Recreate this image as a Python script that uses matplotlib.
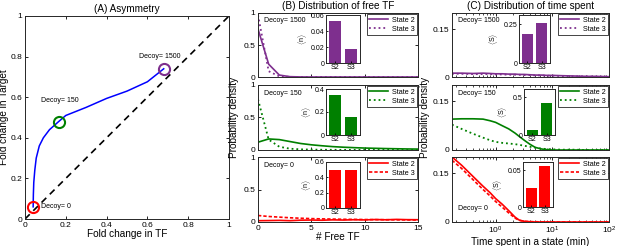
import numpy as np
import matplotlib
matplotlib.use("Agg")
import matplotlib.pyplot as plt

plt.rcParams['font.family'] = ['Liberation Sans', 'DejaVu Sans']
plt.rcParams['mathtext.fontset'] = 'custom'
plt.rcParams['mathtext.rm'] = 'Liberation Sans'
plt.rcParams['mathtext.it'] = 'Liberation Sans'

# ---------------- data ----------------
# Panel A
curve_tf = [0.04, 0.041, 0.043, 0.048, 0.055, 0.07, 0.09, 0.12, 0.165, 0.20, 0.30, 0.40, 0.50, 0.60, 0.68]
curve_target = [0.06, 0.12, 0.18, 0.24, 0.30, 0.36, 0.40, 0.44, 0.48, 0.51, 0.55, 0.594, 0.63, 0.676, 0.74]
decoy_tf = [0.04, 0.165, 0.68]
decoy_target = [0.06, 0.48, 0.74]
decoy_labels = ["Decoy= 0", "Decoy= 150", "Decoy= 1500"]
decoy_colors = ["#FF0000", "#008000", "#7E2F8E"]

# Panel B (free TF distribution), n = 0..15
n_free = list(range(16))
b1500_s2 = [0.75, 0.20, 0.03, 0.005, 0.001, 0, 0, 0, 0, 0, 0, 0, 0, 0, 0, 0]
b1500_s3 = [0.97, 0.09, 0.01, 0.002, 0, 0, 0, 0, 0, 0, 0, 0, 0, 0, 0, 0]
b150_s2 = [0.12, 0.17, 0.16, 0.13, 0.10, 0.08, 0.065, 0.052, 0.043, 0.036, 0.030, 0.026, 0.022, 0.019, 0.016, 0.014]
b150_s3 = [0.78, 0.16, 0.05, 0.02, 0.01, 0.006, 0.004, 0.003, 0.002, 0.002, 0.001, 0.001, 0.001, 0.001, 0.001, 0.001]
b0_s2 = [0.02, 0.022, 0.025, 0.02, 0.028, 0.03, 0.027, 0.033, 0.03, 0.035, 0.032, 0.038, 0.034, 0.04, 0.036, 0.035]
b0_s3 = [0.10, 0.085, 0.075, 0.065, 0.058, 0.052, 0.048, 0.045, 0.042, 0.04, 0.038, 0.036, 0.035, 0.033, 0.032, 0.03]

# Panel B insets <n>
bin_labels = ["S2", "S3"]
nb1500 = [0.052, 0.018]
nb150 = [0.35, 0.16]
nb0 = [0.50, 0.50]

# Panel C (time spent), log time axis
t_time = [0.17, 0.25, 0.4, 0.6, 0.8, 1.0, 1.3, 1.7, 2.2, 2.6, 3.2, 4.0, 5.0, 6.5, 8.0, 10, 15, 25, 40, 60, 100]
c1500_s2 = [0.012, 0.012, 0.011, 0.012, 0.011, 0.010, 0.010, 0.009, 0.009, 0.008, 0.008, 0.007, 0.006, 0.006, 0.005, 0.005, 0.004, 0.003, 0.002, 0.002, 0.001]
c1500_s3 = [0.010, 0.010, 0.009, 0.009, 0.009, 0.008, 0.008, 0.007, 0.007, 0.007, 0.006, 0.006, 0.005, 0.005, 0.004, 0.004, 0.003, 0.002, 0.002, 0.001, 0.001]
c150_s2 = [0.095, 0.096, 0.096, 0.095, 0.090, 0.085, 0.075, 0.065, 0.052, 0.042, 0.030, 0.018, 0.008, 0.003, 0.001, 0, 0, 0, 0, 0, 0]
c150_s3 = [0.078, 0.065, 0.050, 0.038, 0.030, 0.025, 0.022, 0.020, 0.018, 0.016, 0.013, 0.010, 0.007, 0.004, 0.003, 0.002, 0.001, 0.001, 0, 0, 0]
c0_s2 = [0.20, 0.175, 0.14, 0.11, 0.09, 0.072, 0.055, 0.035, 0.015, 0.006, 0.002, 0.001, 0, 0, 0, 0, 0, 0, 0, 0, 0]
c0_s3 = [0.19, 0.165, 0.13, 0.10, 0.08, 0.063, 0.046, 0.028, 0.012, 0.005, 0.002, 0.001, 0.001, 0, 0, 0, 0, 0, 0, 0, 0]

# Panel C insets <S>
sc1500 = [0.19, 0.257]
sc150 = [0.07, 0.42]
sc0 = [0.026, 0.056]

# ---------------- layout ----------------
W, H = 617, 246
fig = plt.figure(figsize=(W / 100, H / 100), dpi=100)


def rect(x0, y0, x1, y1):
    return [x0 / W, 1 - y1 / H, (x1 - x0) / W, (y1 - y0) / H]


FS = 6.0
SMALL = 5.0
LAB = 7.2


def style(ax, fs=FS):
    ax.tick_params(direction='in', top=True, right=True, labelsize=fs,
                   length=2.5, width=0.6, pad=2)
    ax.tick_params(which='minor', direction='in', top=True, right=True, length=1.5, width=0.5)
    for s in ax.spines.values():
        s.set_linewidth(0.7)
        s.set_color('#262626')


def add_legend(ax):
    leg = ax.legend(loc='upper right', fontsize=5.2, frameon=True, fancybox=False,
                    handlelength=2.6, borderpad=0.35, labelspacing=0.25, handletextpad=0.5,
                    borderaxespad=0.15)
    leg.get_frame().set_edgecolor('#262626')
    leg.get_frame().set_linewidth(0.6)
    leg.get_frame().set_alpha(1)


# Panel A
axA = fig.add_axes(rect(25, 16, 229, 219))
axA.plot([0, 1], [0, 1], '--', color='black', lw=1.2, dashes=(4, 3))
axA.plot(curve_tf, curve_target, color='#0000FF', lw=1.1)
for x, y, c in zip(decoy_tf, decoy_target, decoy_colors):
    axA.plot(x, y, 'o', ms=8, mfc='none', mec=c, mew=1.5)
axA.text(0.08, 0.06, decoy_labels[0], fontsize=SMALL, va='center', ha='left')
axA.text(0.17, 0.565, decoy_labels[1], fontsize=SMALL, va='bottom', ha='center')
axA.text(0.66, 0.785, decoy_labels[2], fontsize=SMALL, va='bottom', ha='center')
axA.set_xlim(0, 1)
axA.set_ylim(0, 1)
ticks = [0, 0.2, 0.4, 0.6, 0.8, 1]
axA.set_xticks(ticks)
axA.set_yticks(ticks)
axA.set_xticklabels(["0", "0.2", "0.4", "0.6", "0.8", "1"])
axA.set_yticklabels(["0", "0.2", "0.4", "0.6", "0.8", "1"])
style(axA)
axA.set_xlabel("Fold change in TF", fontsize=LAB, labelpad=0.5)
axA.set_ylabel("Fold change in Target", fontsize=LAB, labelpad=1)
axA.set_title("(A) Asymmetry", fontsize=LAB, pad=3)

rows = [(13, 77), (85, 150), (157, 222)]
colsB = (258, 418)
colsC = (452, 609)

B_data = [(b1500_s2, b1500_s3, nb1500, "Decoy= 1500", decoy_colors[2], (0, 0.06), [0, 0.02, 0.04, 0.06], ":"),
          (b150_s2, b150_s3, nb150, "Decoy= 150", decoy_colors[1], (0, 0.4), [0, 0.2, 0.4], ":"),
          (b0_s2, b0_s3, nb0, "Decoy= 0", decoy_colors[0], (0, 0.6), [0, 0.2, 0.4, 0.6], "--")]
B_insets = [(326, 15, 360, 63), (326, 89, 360, 135), (326, 162, 360, 208)]

for i, ((s2, s3, nb, lab, col, ylim_in, yt_in, ls3), (y0, y1), ins) in enumerate(zip(B_data, rows, B_insets)):
    ax = fig.add_axes(rect(colsB[0], y0, colsB[1], y1))
    ax.plot(n_free, s2, '-', color=col, lw=1.2, label="State 2")
    if ls3 == ":":
        ax.plot(n_free, s3, ':', color=col, lw=1.3, label="State 3")
    else:
        ax.plot(n_free, s3, '--', color=col, lw=1.2, dashes=(2, 1.2), label="State 3")
    ax.set_xlim(0, 15)
    ax.set_ylim(0, 1)
    ax.set_xticks([0, 5, 10, 15])
    ax.set_yticks([0, 0.5, 1])
    ax.set_yticklabels(["0", "0.5", "1"])
    style(ax)
    if i < 2:
        ax.set_xticklabels([])
    else:
        ax.set_xlabel("# Free TF", fontsize=LAB, labelpad=0.5)
    if i == 0:
        ax.set_title("(B) Distribution of free TF", fontsize=LAB, pad=3)
    if i == 1:
        ax.set_ylabel("Probability density", fontsize=LAB, labelpad=3)
    ax.text(0.04, 0.93, lab, transform=ax.transAxes, fontsize=SMALL, va='top', ha='left')
    add_legend(ax)
    axi = fig.add_axes(rect(*ins))
    axi.bar([0, 1], nb, width=0.8, color=col)
    axi.set_xlim(-0.6, 1.6)
    axi.set_ylim(*ylim_in)
    axi.set_xticks([0, 1])
    axi.set_xticklabels(bin_labels)
    axi.set_yticks(yt_in)
    axi.set_yticklabels([f"{v:g}" for v in yt_in])
    style(axi, fs=SMALL)
    axi.tick_params(top=False, right=False, length=1.5, pad=1)
    axi.set_ylabel(r"$\langle n\rangle$", fontsize=SMALL, labelpad=1)

C_data = [(c1500_s2, c1500_s3, sc1500, "Decoy= 1500", decoy_colors[2], (0, 0.31), [0, 0.25], ":", (0.04, 0.93, 'top')),
          (c150_s2, c150_s3, sc150, "Decoy= 150", decoy_colors[1], (0, 0.61), [0, 0.5], ":", (0.04, 0.93, 'top')),
          (c0_s2, c0_s3, sc0, "Decoy= 0", decoy_colors[0], (0, 0.061), [0, 0.05], "--", (0.04, 0.2, 'center'))]
C_insets = [(519, 15, 550, 63), (524, 89, 555, 135), (523, 162, 553, 207)]

for i, ((s2, s3, sc, lab, col, ylim_in, yt_in, ls3, tpos), (y0, y1), ins) in enumerate(zip(C_data, rows, C_insets)):
    ax = fig.add_axes(rect(colsC[0], y0, colsC[1], y1))
    ax.plot(t_time, s2, '-', color=col, lw=1.2, label="State 2")
    if ls3 == ":":
        ax.plot(t_time, s3, ':', color=col, lw=1.3, label="State 3")
    else:
        ax.plot(t_time, s3, '--', color=col, lw=1.2, dashes=(2, 1.2), label="State 3")
    ax.set_xscale('log')
    ax.set_xlim(0.17, 100)
    ax.set_ylim(0, 0.2)
    ax.set_yticks([0, 0.15])
    ax.set_yticklabels(["0", "0.15"])
    ax.set_xticks([1, 10, 100])
    style(ax)
    if i < 2:
        ax.set_xticklabels([])
    else:
        ax.set_xlabel("Time spent in a state (min)", fontsize=LAB, labelpad=0.5)
    if i == 0:
        ax.set_title("(C) Distribution of time spent", fontsize=LAB, pad=3)
    if i == 1:
        ax.set_ylabel("Probability density", fontsize=LAB, labelpad=2)
    ax.text(tpos[0], tpos[1], lab, transform=ax.transAxes, fontsize=SMALL, va=tpos[2], ha='left')
    add_legend(ax)
    axi = fig.add_axes(rect(*ins))
    axi.bar([0, 1], sc, width=0.8, color=col)
    axi.set_xlim(-0.6, 1.6)
    axi.set_ylim(*ylim_in)
    axi.set_xticks([0, 1])
    axi.set_xticklabels(bin_labels)
    axi.set_yticks(yt_in)
    axi.set_yticklabels([f"{v:g}" for v in yt_in])
    style(axi, fs=SMALL)
    axi.tick_params(top=False, right=False, length=1.5, pad=1)
    axi.set_ylabel(r"$\langle S\rangle$", fontsize=SMALL, labelpad=3)

fig.savefig("out.png", dpi=100)
